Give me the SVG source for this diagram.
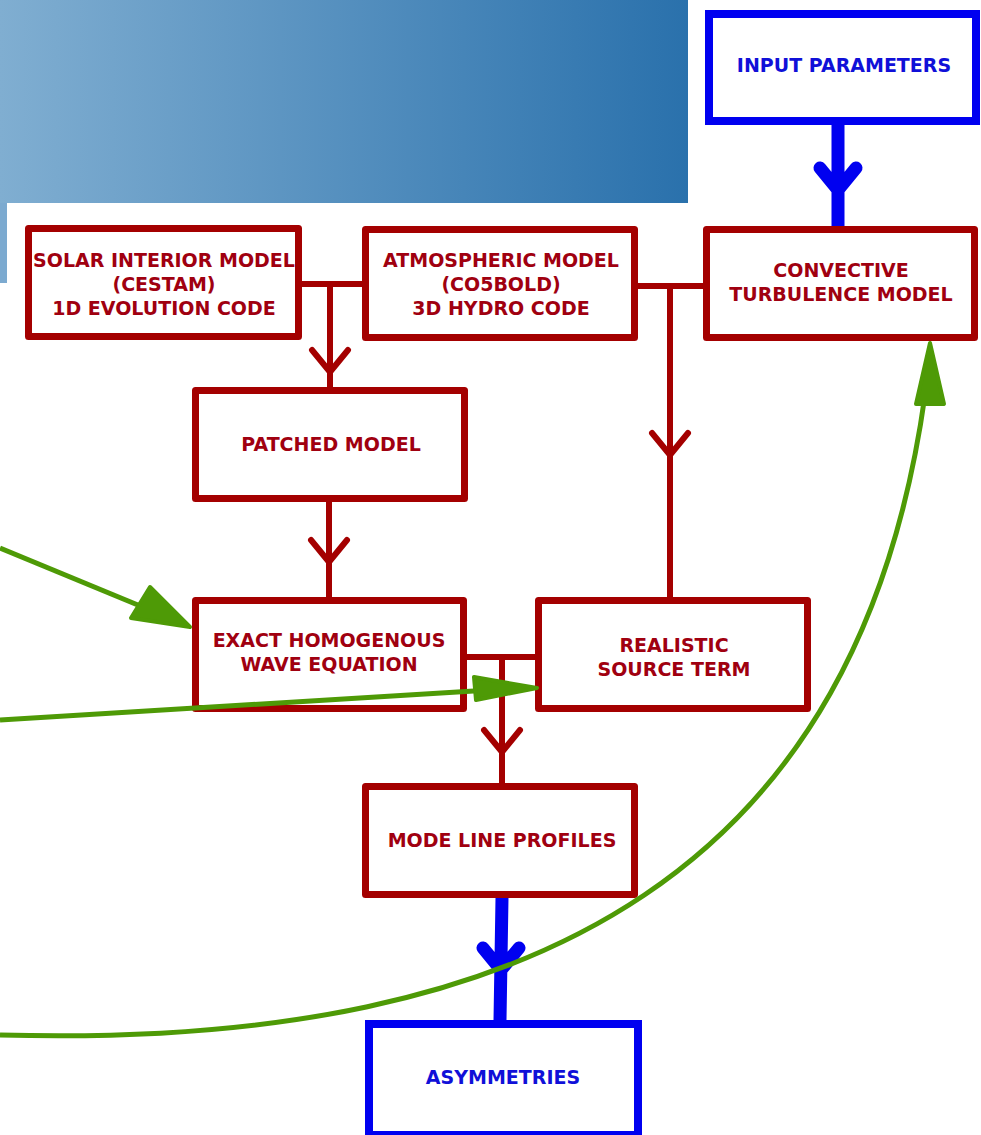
<svg xmlns="http://www.w3.org/2000/svg" width="981" height="1135" viewBox="0 0 981 1135">
<defs>
<linearGradient id="bg" x1="0" y1="0" x2="1" y2="0">
<stop offset="0" stop-color="#80aed1"/>
<stop offset="1" stop-color="#2a71ac"/>
</linearGradient>
<style>
.r{fill:#fff;stroke:#a40000;stroke-width:7;stroke-linejoin:round}
.b{fill:#fff;stroke:#0000f0;stroke-width:8;stroke-linejoin:miter}
.rt{font-family:"DejaVu Sans",sans-serif;font-weight:bold;font-size:19px;fill:#a00010;text-anchor:middle}
.bt{font-family:"DejaVu Sans",sans-serif;font-weight:bold;font-size:19px;fill:#1010d8;text-anchor:middle}
.rl{fill:none;stroke:#a40000;stroke-width:6;stroke-linecap:round;stroke-linejoin:round}
.bl{fill:none;stroke:#0000f0;stroke-width:13;stroke-linecap:round;stroke-linejoin:round}
.gl{fill:none;stroke:#4e9a06;stroke-width:5}
.gh{fill:#4e9a06;stroke:#4e9a06;stroke-width:4;stroke-linejoin:round}
</style>
</defs>
<rect x="0" y="0" width="688" height="203" fill="url(#bg)"/>
<rect x="0" y="203" width="7" height="80" fill="#7caad0"/>
<g id="connectors">
<path class="rl" d="M302,284 H362 M330,284 V387 M312,350 L330,372 L348,350"/>
<path class="rl" d="M638,286 H703 M670,286 V597 M652,433 L670,455 L688,433"/>
<path class="rl" d="M329,502 V597 M311,540 L329,562 L347,540"/>
<path class="rl" d="M467,657 H535 M502,657 V783 M484,730 L502,752 L520,730"/>
<path class="bl" d="M838,125 V226 M820,168 L838,190 L856,168"/>
<path class="bl" d="M502,898 L500,1020 M483,948 L501,970 L519,948"/>
</g>
<g id="n-input"><rect class="b" x="709" y="14" width="267" height="107"/><text class="bt" x="844" y="72">INPUT PARAMETERS</text></g>
<g id="n-solar"><rect class="r" x="28.5" y="228.5" width="270" height="108"/><text class="rt" x="164" y="267">SOLAR INTERIOR MODEL</text><text class="rt" x="164" y="291">(CESTAM)</text><text class="rt" x="164" y="315">1D EVOLUTION CODE</text></g>
<g id="n-atmos"><rect class="r" x="365.5" y="229.5" width="269" height="108"/><text class="rt" x="501" y="267">ATMOSPHERIC MODEL</text><text class="rt" x="501" y="291">(CO5BOLD)</text><text class="rt" x="501" y="315">3D HYDRO CODE</text></g>
<g id="n-conv"><rect class="r" x="706.5" y="229.5" width="268" height="108"/><text class="rt" x="841" y="277">CONVECTIVE</text><text class="rt" x="841" y="301">TURBULENCE MODEL</text></g>
<g id="n-patched"><rect class="r" x="195.5" y="390.5" width="269" height="108"/><text class="rt" x="331" y="451">PATCHED MODEL</text></g>
<g id="n-exact"><rect class="r" x="195.5" y="600.5" width="268" height="108"/><text class="rt" x="329" y="647">EXACT HOMOGENOUS</text><text class="rt" x="329" y="671">WAVE EQUATION</text></g>
<g id="n-real"><rect class="r" x="538.5" y="600.5" width="269" height="108"/><text class="rt" x="674" y="652">REALISTIC</text><text class="rt" x="674" y="676">SOURCE TERM</text></g>
<g id="n-mode"><rect class="r" x="365.5" y="786.5" width="269" height="108"/><text class="rt" x="502" y="847">MODE LINE PROFILES</text></g>
<g id="n-asym"><rect class="b" x="369" y="1024" width="269" height="111"/><text class="bt" x="503" y="1084">ASYMMETRIES</text></g>
<g id="green">
<path class="gl" d="M0,548 L150,610"/>
<path class="gh" d="M190,627 L131,618 L150,587 Z"/>
<path class="gl" d="M0,720 L490,690"/>
<path class="gh" d="M537,688 L476,700 L474,677 Z"/>
<path class="gl" d="M0,1035 C550,1050 860,860 925,395"/>
<path class="gh" d="M930,343 L944,404 L916,404 Z"/>
</g>
</svg>
